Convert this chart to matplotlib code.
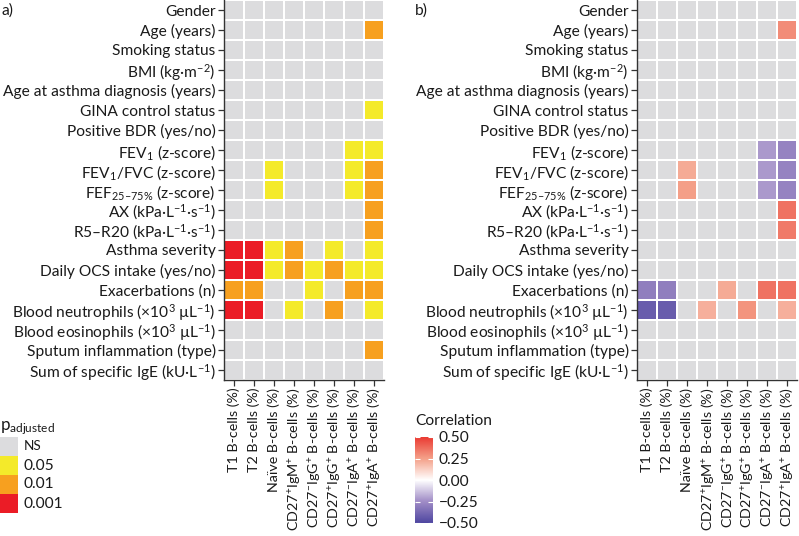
import numpy as np
import matplotlib
matplotlib.use("Agg")
import matplotlib.pyplot as plt
from matplotlib.colors import ListedColormap, BoundaryNorm, LinearSegmentedColormap

plt.rcParams['font.family'] = ['Lato', 'DejaVu Sans']
plt.rcParams['mathtext.fontset'] = 'custom'
plt.rcParams['mathtext.rm'] = 'Lato'
plt.rcParams['mathtext.it'] = 'Lato:italic'
plt.rcParams['mathtext.bf'] = 'Lato:bold'
plt.rcParams['mathtext.default'] = 'regular'

# ---------------- data ----------------
row_labels = [
    "Gender", "Age (years)", "Smoking status", "BMI (kg·m$^{−2}$)",
    "Age at asthma diagnosis (years)", "GINA control status",
    "Positive BDR (yes/no)", "FEV$_1$ (z-score)", "FEV$_1$/FVC (z-score)",
    "FEF$_{25–75\\%}$ (z-score)", "AX (kPa·L$^{−1}$·s$^{−1}$)",
    "R5–R20 (kPa·L$^{−1}$·s$^{−1}$)", "Asthma severity",
    "Daily OCS intake (yes/no)", "Exacerbations (n)",
    "Blood neutrophils (×10$^3$ µL$^{−1}$)",
    "Blood eosinophils (×10$^3$ µL$^{−1}$)",
    "Sputum inflammation (type)", "Sum of specific IgE (kU·L$^{−1}$)",
]
col_labels = [
    "T1 B-cells (%)", "T2 B-cells (%)", "Naïve B-cells (%)",
    "CD27$^{+}$IgM$^{+}$ B-cells (%)", "CD27$^{−}$IgG$^{+}$ B-cells (%)",
    "CD27$^{+}$IgG$^{+}$ B-cells (%)", "CD27$^{−}$IgA$^{+}$ B-cells (%)",
    "CD27$^{+}$IgA$^{+}$ B-cells (%)",
]
# significance level: 0 = NS, 1 = 0.05, 2 = 0.01, 3 = 0.001
p_levels = [
    [0, 0, 0, 0, 0, 0, 0, 0],
    [0, 0, 0, 0, 0, 0, 0, 2],
    [0, 0, 0, 0, 0, 0, 0, 0],
    [0, 0, 0, 0, 0, 0, 0, 0],
    [0, 0, 0, 0, 0, 0, 0, 0],
    [0, 0, 0, 0, 0, 0, 0, 1],
    [0, 0, 0, 0, 0, 0, 0, 0],
    [0, 0, 0, 0, 0, 0, 1, 1],
    [0, 0, 1, 0, 0, 0, 1, 2],
    [0, 0, 1, 0, 0, 0, 1, 2],
    [0, 0, 0, 0, 0, 0, 0, 2],
    [0, 0, 0, 0, 0, 0, 0, 2],
    [3, 3, 1, 2, 0, 1, 0, 1],
    [3, 3, 1, 2, 1, 2, 1, 1],
    [2, 2, 0, 0, 1, 0, 2, 2],
    [3, 3, 0, 1, 0, 2, 0, 1],
    [0, 0, 0, 0, 0, 0, 0, 0],
    [0, 0, 0, 0, 0, 0, 0, 2],
    [0, 0, 0, 0, 0, 0, 0, 0],
]
p_legend_labels = ["NS", "0.05", "0.01", "0.001"]
N = np.nan
correlations = [
    [N, N, N, N, N, N, N, N],
    [N, N, N, N, N, N, N, 0.30],
    [N, N, N, N, N, N, N, N],
    [N, N, N, N, N, N, N, N],
    [N, N, N, N, N, N, N, N],
    [N, N, N, N, N, N, N, N],
    [N, N, N, N, N, N, N, N],
    [N, N, N, N, N, N, -0.22, -0.28],
    [N, N, 0.22, N, N, N, -0.22, -0.28],
    [N, N, 0.25, N, N, N, -0.22, -0.28],
    [N, N, N, N, N, N, N, 0.36],
    [N, N, N, N, N, N, N, 0.34],
    [N, N, N, N, N, N, N, N],
    [N, N, N, N, N, N, N, N],
    [-0.30, -0.30, N, N, 0.22, N, 0.36, 0.36],
    [-0.42, -0.42, N, 0.21, N, 0.28, N, 0.21],
    [N, N, N, N, N, N, N, N],
    [N, N, N, N, N, N, N, N],
    [N, N, N, N, N, N, N, N],
]
corr_ticks = [-0.5, -0.25, 0.0, 0.25, 0.5]

# ---------------- figure ----------------
W, H = 799, 536
fig = plt.figure(figsize=(W / 100, H / 100), dpi=100)

def px_axes(x0, y0, x1, y1):
    return fig.add_axes([x0 / W, 1 - y1 / H, (x1 - x0) / W, (y1 - y0) / H])

GREY = "#DCDCDE"
p_colors = [GREY, "#F4EA2A", "#F7A01F", "#EB1C26"]
TXT = "#1a1a1a"
FS = 11.2
FSX = 10.3

def style_axes(ax):
    nr, nc = len(row_labels), len(col_labels)
    ax.set_xlim(0, nc)
    ax.set_ylim(nr, 0)
    ax.set_xticks(np.arange(nc) + 0.5)
    ax.set_yticks(np.arange(nr) + 0.5)
    ax.set_xticklabels(col_labels, rotation=90, ha="center", va="top",
                       fontsize=FSX, color=TXT)
    ax.set_yticklabels(row_labels, fontsize=FS, color=TXT)
    for s in ["top", "right"]:
        ax.spines[s].set_visible(False)
    for s in ["left", "bottom"]:
        ax.spines[s].set_color("#333333")
        ax.spines[s].set_linewidth(1.0)
    ax.tick_params(length=4, width=0.9, color="#333333", pad=2)
    ax.tick_params(axis="x", pad=1.5)

# panel a
axa = px_axes(224, 0, 384, 380)
pa = np.array(p_levels)
nr, nc = pa.shape
cmap_p = ListedColormap(p_colors)
norm_p = BoundaryNorm([-0.5, 0.5, 1.5, 2.5, 3.5], 4)
axa.pcolormesh(np.arange(nc + 1), np.arange(nr + 1), pa, cmap=cmap_p,
               norm=norm_p, edgecolors="white", linewidth=1.2)
style_axes(axa)

# panel b
axb = px_axes(637, 0, 797, 380)
cb = np.ma.masked_invalid(np.array(correlations, dtype=float))
cmap_c = LinearSegmentedColormap.from_list(
    "corr", ["#4E46A0", "#A08CC6", "#FFFFFF", "#F4A089", "#EA3A32"])
cmap_c.set_bad(GREY)
mesh = axb.pcolormesh(np.arange(nc + 1), np.arange(nr + 1), cb, cmap=cmap_c,
                      vmin=-0.5, vmax=0.5, edgecolors="white", linewidth=1.2)
style_axes(axb)

fig.text(1 / W, 1 - 15 / H, "a)", fontsize=FS, color=TXT, va="baseline")
fig.text(415 / W, 1 - 15 / H, "b)", fontsize=FS, color=TXT, va="baseline")

# p legend
lax = px_axes(0, 437, 18, 513)
lax.pcolormesh([0, 1], np.arange(5), np.arange(4).reshape(4, 1), cmap=cmap_p,
               norm=norm_p)
lax.set_xlim(0, 1)
lax.set_ylim(4, 0)
lax.axis("off")
for i, lab in enumerate(p_legend_labels):
    lax.text(1.3, i + 0.5, lab, fontsize=FS - 1.5 if lab == "NS" else FS,
             va="center", ha="left", color=TXT, transform=lax.transData)
fig.text(0 / W, 1 - 430 / H, "p$_{\\mathrm{adjusted}}$", fontsize=FS + 1,
         color=TXT, va="baseline")

# colour bar
cax = px_axes(415, 437, 433, 523)
cbar = fig.colorbar(mesh, cax=cax, ticks=corr_ticks)
cbar.outline.set_visible(False)
cax.set_yticklabels([f"{t:.2f}".replace("-", "−") for t in corr_ticks],
                    fontsize=FS, color=TXT)
cax.tick_params(axis="y", direction="in", color="white", length=3.5,
                width=0.8, left=True, right=True, pad=4)
fig.text(415 / W, 1 - 425 / H, "Correlation", fontsize=FS, color=TXT,
         va="baseline")

fig.savefig("out.png", dpi=100)
